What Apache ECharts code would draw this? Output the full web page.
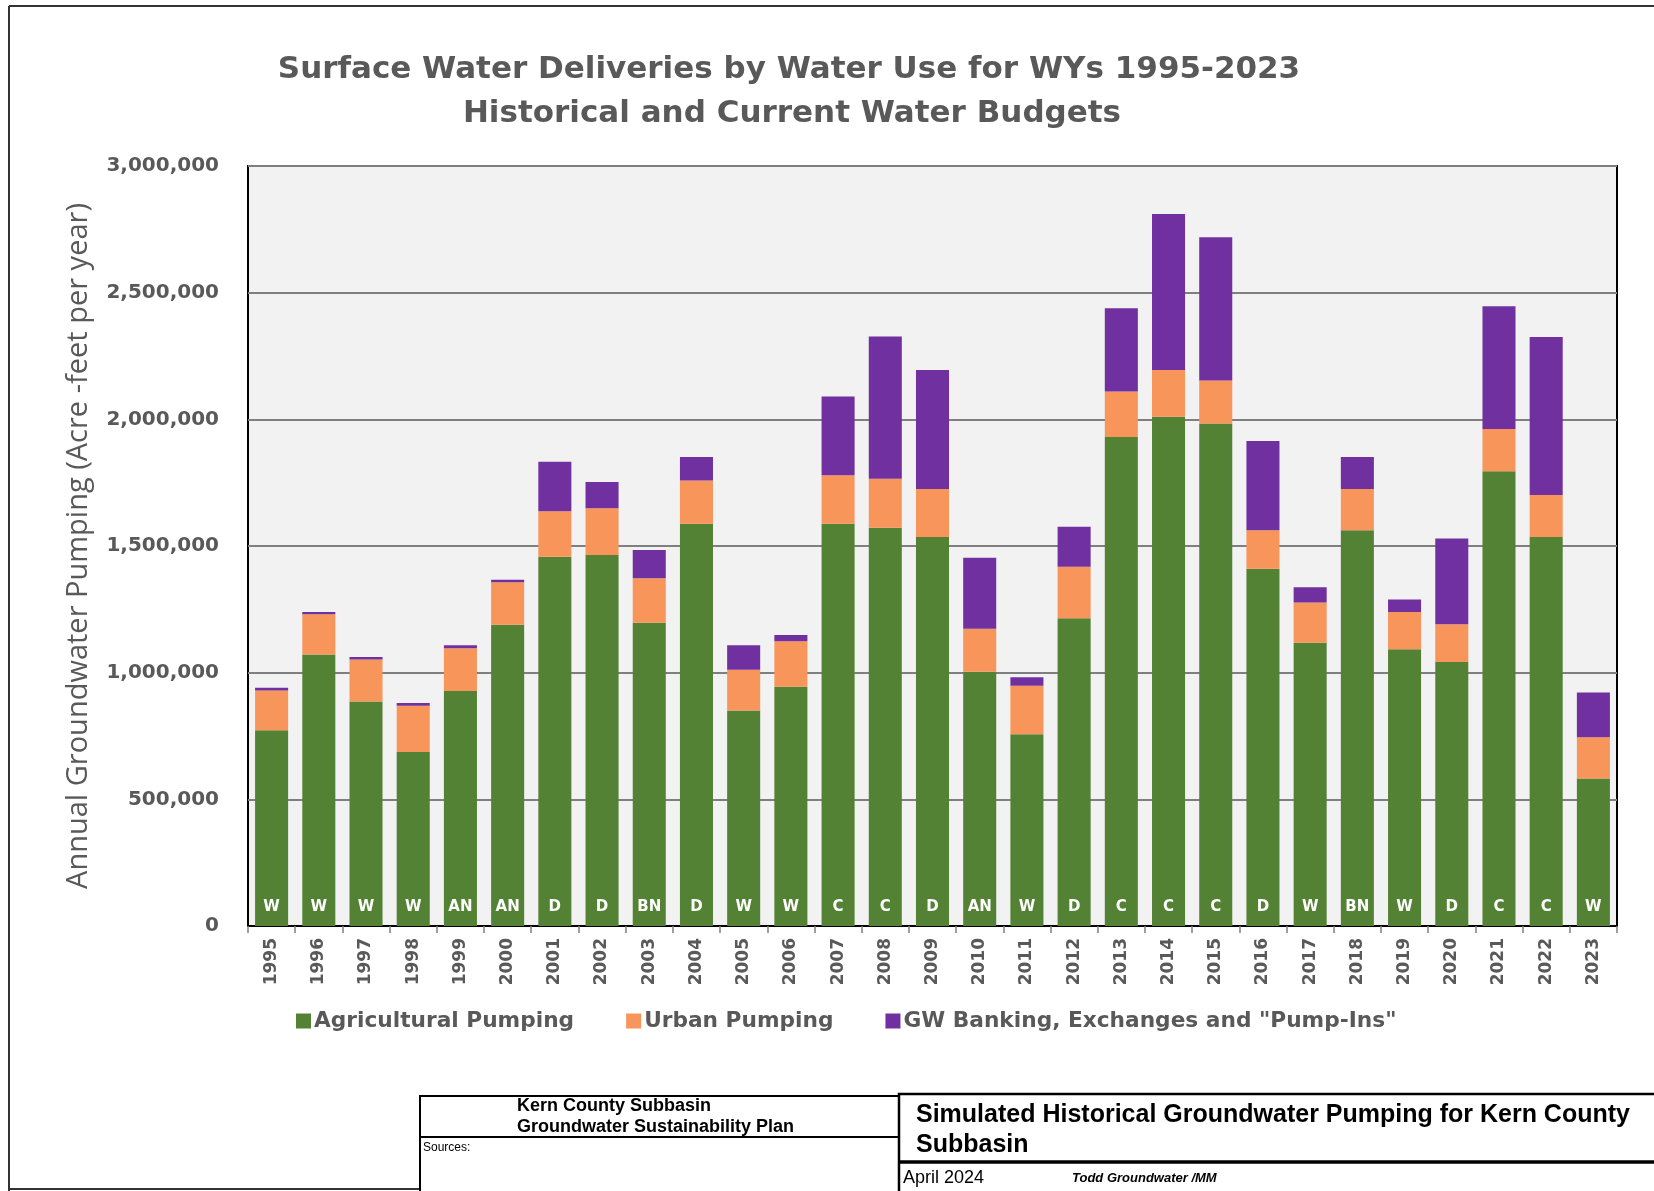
<!DOCTYPE html>
<html lang="en">
<head>
    <meta charset="UTF-8">
    <script type="text/javascript" src="https://cdn.jsdelivr.net/npm/echarts@6/dist/echarts.min.js"></script>
    <title>Simulated Historical Groundwater Pumping</title>
    <style>
        html, body {margin: 0; padding: 0; background: #fff;}
        #main {width: 1654px; height: 1191px;}
    </style>
</head>
<body>
<div id="main"></div>
<script type="text/javascript">

    // water years and water year type
    var years = ['1995', '1996', '1997', '1998', '1999', '2000', '2001', '2002', '2003', '2004',
        '2005', '2006', '2007', '2008', '2009', '2010', '2011', '2012', '2013', '2014',
        '2015', '2016', '2017', '2018', '2019', '2020', '2021', '2022', '2023']
    var yearTypes = ['W', 'W', 'W', 'W', 'AN', 'AN', 'D', 'D', 'BN', 'D',
        'W', 'W', 'C', 'C', 'D', 'AN', 'W', 'D', 'C', 'C',
        'C', 'D', 'W', 'BN', 'W', 'D', 'C', 'C', 'W']

    // pumping (acre-feet per year)
    var agPumping = [773000, 1072000, 886000, 687000, 928000, 1189000, 1458000, 1464000, 1197000, 1588000,
        851000, 944000, 1588000, 1572000, 1536000, 1004000, 757000, 1215000, 1930000, 2010000,
        1984000, 1410000, 1118000, 1562000, 1092000, 1042000, 1795000, 1536000, 582000]
    var urbanPumping = [157000, 159000, 166000, 182000, 168000, 168000, 179000, 185000, 176000, 171000,
        161000, 180000, 191000, 193000, 189000, 169000, 191000, 203000, 180000, 185000,
        169000, 152000, 159000, 163000, 147000, 149000, 167000, 165000, 163000]
    var gwBanking = [10000, 8000, 10000, 11000, 12000, 10000, 196000, 104000, 111000, 92000,
        96000, 25000, 311000, 562000, 470000, 281000, 34000, 158000, 328000, 616000,
        566000, 352000, 60000, 126000, 50000, 339000, 484000, 624000, 177000]

    var yTicks = [0, 500000, 1000000, 1500000, 2000000, 2500000, 3000000]

    var grey = '#595959'

    function withCommas(v) {
        return String(v).replace(/\B(?=(\d{3})+(?!\d))/g, ',')
    }

    var myChart = echarts.init(document.getElementById('main'))

    option = {
        backgroundColor: '#fff',
        animation: false,
        grid: {
            left: 248,
            right: 37,
            top: 166,
            bottom: 265,
            show: true,
            backgroundColor: '#F2F2F2',
            borderColor: '#000',
            borderWidth: 2
        },
        legend: {
            left: 291,
            top: 1005,
            itemWidth: 15,
            itemHeight: 15,
            itemGap: 52,
            icon: 'rect',
            textStyle: {
                color: grey,
                fontFamily: 'DejaVu Sans',
                fontWeight: 'bold',
                fontSize: 21.7,
                padding: [0, 0, 0, -2]
            }
        },
        xAxis: {
            type: 'category',
            data: years,
            axisLine: {lineStyle: {color: '#000', width: 2}},
            axisTick: {show: true, length: 7, lineStyle: {color: '#808080', width: 1.5}},
            axisLabel: {
                rotate: 90,
                margin: 12,
                color: grey,
                fontFamily: 'DejaVu Sans',
                fontWeight: 'bold',
                fontSize: 17
            }
        },
        yAxis: {
            type: 'value',
            min: yTicks[0],
            max: yTicks[yTicks.length - 1],
            interval: yTicks[1] - yTicks[0],
            name: 'Annual Groundwater Pumping (Acre -feet per year)',
            nameLocation: 'middle',
            nameGap: 155,
            nameTextStyle: {
                color: grey,
                fontFamily: 'Open Sans',
                fontSize: 29
            },
            axisLine: {show: false},
            axisTick: {show: false},
            splitLine: {lineStyle: {color: '#7F7F7F', width: 2}},
            axisLabel: {
                margin: 29,
                color: grey,
                fontFamily: 'DejaVu Sans',
                fontWeight: 'bold',
                fontSize: 20,
                formatter: withCommas
            }
        },
        series: [
            {
                name: 'Agricultural Pumping',
                type: 'bar',
                stack: 'total',
                barWidth: '70%',
                itemStyle: {color: '#548235'},
                label: {
                    show: true,
                    position: 'insideBottom',
                    distance: 11,
                    color: '#fff',
                    fontFamily: 'DejaVu Sans',
                    fontWeight: 'bold',
                    fontSize: 15,
                    formatter: function (p) {
                        return yearTypes[p.dataIndex]
                    }
                },
                data: agPumping
            },
            {
                name: 'Urban Pumping',
                type: 'bar',
                stack: 'total',
                itemStyle: {color: '#F7955B'},
                data: urbanPumping
            },
            {
                name: 'GW Banking, Exchanges and "Pump-Ins"',
                type: 'bar',
                stack: 'total',
                itemStyle: {color: '#7030A0'},
                data: gwBanking
            }
        ],
        graphic: [
            // titles
            {
                type: 'text', x: 789, y: 70,
                style: {
                    text: 'Surface Water Deliveries by Water Use for WYs 1995-2023',
                    fill: grey, font: 'bold 31px "DejaVu Sans"', align: 'center', verticalAlign: 'middle'
                }
            },
            {
                type: 'text', x: 792, y: 114,
                style: {
                    text: 'Historical and Current Water Budgets',
                    fill: grey, font: 'bold 31px "DejaVu Sans"', align: 'center', verticalAlign: 'middle'
                }
            },
            // outer frame
            {type: 'line', shape: {x1: 9, y1: 6, x2: 1654, y2: 6}, style: {stroke: '#333', lineWidth: 2}},
            {type: 'line', shape: {x1: 9, y1: 6, x2: 9, y2: 1191}, style: {stroke: '#333', lineWidth: 2}},
            {type: 'line', shape: {x1: 9, y1: 1189, x2: 420, y2: 1189}, style: {stroke: '#333', lineWidth: 2}},
            // title block
            {type: 'rect', shape: {x: 420, y: 1096, width: 479, height: 110}, style: {fill: '#fff', stroke: '#000', lineWidth: 2}},
            {type: 'line', shape: {x1: 420, y1: 1137, x2: 899, y2: 1137}, style: {stroke: '#000', lineWidth: 2}},
            {type: 'rect', shape: {x: 899, y: 1094, width: 770, height: 110}, style: {fill: '#fff', stroke: '#000', lineWidth: 2.5}},
            {type: 'line', shape: {x1: 899, y1: 1162, x2: 1654, y2: 1162}, style: {stroke: '#000', lineWidth: 3.5}},
            {
                type: 'text', x: 517, y: 1106,
                style: {text: 'Kern County Subbasin', fill: '#000', font: 'bold 18px "Liberation Sans"', verticalAlign: 'middle'}
            },
            {
                type: 'text', x: 517, y: 1127,
                style: {text: 'Groundwater Sustainability Plan', fill: '#000', font: 'bold 18px "Liberation Sans"', verticalAlign: 'middle'}
            },
            {
                type: 'text', x: 423, y: 1148,
                style: {text: 'Sources:', fill: '#000', font: '12px "Liberation Sans"', verticalAlign: 'middle'}
            },
            {
                type: 'text', x: 916, y: 1115,
                style: {text: 'Simulated Historical Groundwater Pumping for Kern County', fill: '#000', font: 'bold 25px "Liberation Sans"', verticalAlign: 'middle'}
            },
            {
                type: 'text', x: 916, y: 1145,
                style: {text: 'Subbasin', fill: '#000', font: 'bold 25px "Liberation Sans"', verticalAlign: 'middle'}
            },
            {
                type: 'text', x: 903, y: 1178,
                style: {text: 'April 2024', fill: '#000', font: '18px "Liberation Sans"', verticalAlign: 'middle'}
            },
            {
                type: 'text', x: 1072, y: 1178,
                style: {text: 'Todd Groundwater /MM', fill: '#000', font: 'italic bold 13px "Liberation Sans"', verticalAlign: 'middle'}
            }
        ]
    };
    myChart.setOption(option)
</script>
</body>
</html>
